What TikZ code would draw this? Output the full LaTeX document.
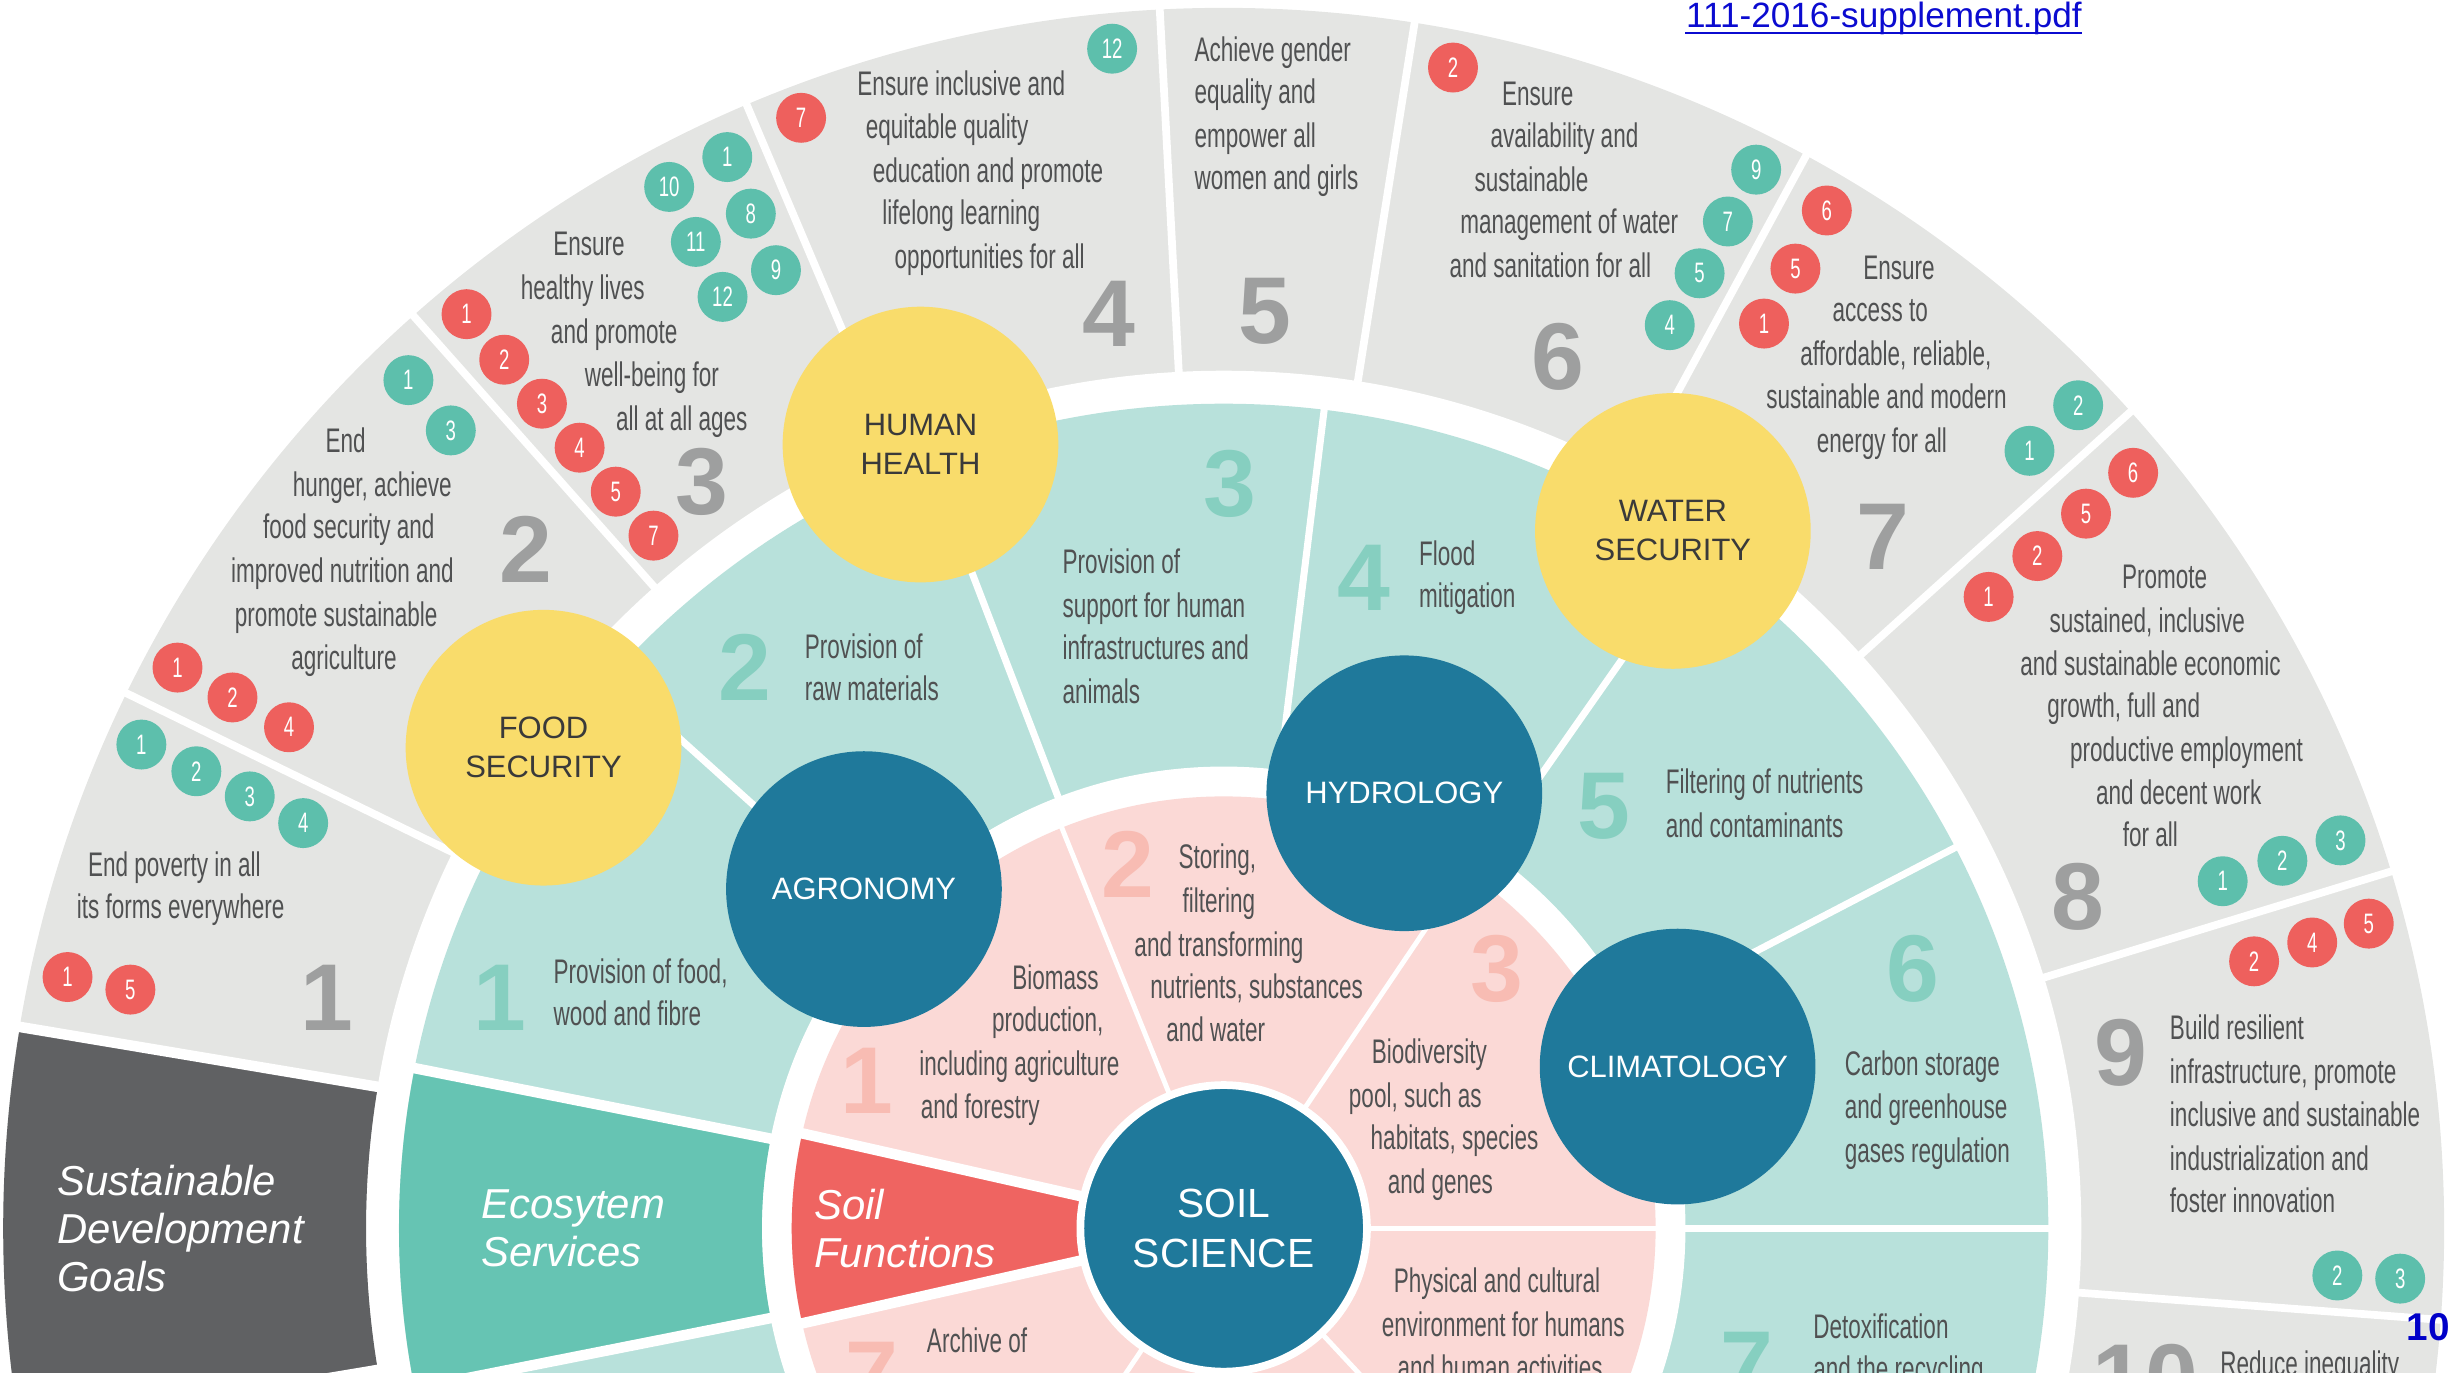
\documentclass[tikz,border=0pt]{standalone}
\usepackage{fontspec}
\setmainfont{Liberation Sans}
\newfontfamily\narrowfont[FakeStretch=0.66]{Liberation Sans}
\definecolor{sdggrey}{HTML}{E4E5E3}
\definecolor{sdgnum}{HTML}{9E9F9F}
\definecolor{sdgdark}{HTML}{606163}
\definecolor{esteal}{HTML}{B8E1DB}
\definecolor{esnum}{HTML}{86CFC0}
\definecolor{esbox}{HTML}{66C4B3}
\definecolor{sfpink}{HTML}{FBD9D6}
\definecolor{sfnum}{HTML}{F8BCB3}
\definecolor{sfred}{HTML}{EF6461}
\definecolor{dotred}{HTML}{EE605D}
\definecolor{dotteal}{HTML}{5DBFAC}
\definecolor{sunny}{HTML}{F9DC6B}
\definecolor{deepblue}{HTML}{1F799B}
\definecolor{txtgrey}{HTML}{505152}
\definecolor{themetxt}{HTML}{3A3A3A}
\definecolor{linkblue}{HTML}{0B0BD0}
\definecolor{pageblue}{HTML}{0000C8}
\tikzset{
  ringtext/.style={font=\narrowfont\fontsize{9.7}{12}\selectfont, text=txtgrey, inner sep=0pt, anchor=mid},
  ringtextl/.style={ringtext, anchor=mid west},
  bignum/.style={font=\bfseries\fontsize{27}{27}\selectfont, inner sep=0pt},
  reddot/.style={circle, fill=dotred, text=white, minimum size=14.2pt, inner sep=0pt, font=\narrowfont\fontsize{8}{8}\selectfont},
  tealdot/.style={reddot, fill=dotteal},
  theme/.style={circle, minimum size=78.4pt, inner sep=0pt, align=center, font=\fontsize{8.8}{11.1}\selectfont},
  yellowtheme/.style={theme, fill=sunny, text=themetxt},
  bluetheme/.style={theme, fill=deepblue, text=white},
  boxlabel/.style={font=\itshape\fontsize{11.9}{13.6}\selectfont, text=white, align=left, anchor=west, inner sep=0pt},
  sepline/.style={white, line width=#1},
}

\begin{document}
\begin{tikzpicture}[x=0.015708cm, y=-0.015708cm]
    \useasboundingbox (0,0) rectangle (1568,879);
    % rings, drawn round the centre of the soil science circle
    \begin{scope}[shift={(779,782)}, yscale=-1]
        \fill[sdggrey] (0,0) circle (777);
        \fill[white] (0,0) circle (546);
        \fill[esteal] (0,0) circle (525);
        \fill[white] (0,0) circle (294);
        \fill[sfpink] (0,0) circle (275);
        \foreach \a in {154,131.6,113,93,81,61.5,42,17,-4.3}
            \draw[sepline=2.2pt] (\a:544) -- (\a:780);
        \foreach \a in {138,111,83,55,27.5,0}
            \draw[sepline=2pt] (\a:292) -- (\a:527);
        \foreach \a in {112,56,0,236,313}
            \draw[sepline=1.4pt] (\a:80) -- (\a:277);
        % the three label wedges on the left
        \fill[sdgdark] (170.5:546) -- (170.5:777) arc[start angle=170.5, end angle=189.5, radius=777] -- (189.5:546) arc[start angle=189.5, end angle=170.5, radius=546] -- cycle;
        \fill[esbox] (168.8:294) -- (168.8:525) arc[start angle=168.8, end angle=191.2, radius=525] -- (191.2:294) arc[start angle=191.2, end angle=168.8, radius=294] -- cycle;
        \fill[sfred] (167.3:90) -- (167.3:275) arc[start angle=167.3, end angle=192.7, radius=275] -- (192.7:90) -- cycle;
        \foreach \a in {170.5,189.5}
            \draw[sepline=3pt] (\a:544) -- (\a:780);
        \foreach \a in {168.8,191.2}
            \draw[sepline=3pt] (\a:292) -- (\a:527);
        \foreach \a in {167.3,192.7}
            \draw[sepline=3pt] (\a:80) -- (\a:277);
    \end{scope}

    % big numbers
    \foreach \n/\x/\y [count=\i] in {1/208/635, 2/335/350, 3/447/307, 4/706/200, 5/805/198, 6/992/227, 7/1199/342, 8/1323/571, 9/1350/670, 10/1366/877}
        \node[bignum, text=sdgnum] (sdgnum\i) at (\x,\y) {\n};
    \foreach \n/\x/\y [count=\i] in {1/318/635, 2/474/425, 3/783/308, 4/868/368, 5/1021/513, 6/1218/617, 7/1112/869}
        \node[bignum, text=esnum] (esnum\i) at (\x,\y) {\n};
    \foreach \n/\x/\y [count=\i] in {1/552/688, 2/718/550, 3/953/617, 7/555/875}
        \node[bignum, text=sfnum] (sfnum\i) at (\x,\y) {\n};

    % goals
    \foreach \x/\y/\t [count=\i] in {111/552/End poverty in all, 115/579/its forms everywhere,
        220/282/End, 237/310/{hunger, achieve}, 222/337/food security and, 218/365/improved nutrition and, 214/393/promote sustainable, 219/420/agriculture,
        375/157/Ensure, 371/185/healthy lives, 391/213/and promote, 415/240/well-being for, 434/268/all at all ages,
        612/55/Ensure inclusive and, 603/82/equitable quality, 629/110/education and promote, 612/137/lifelong learning, 630/165/opportunities for all,
        979/61/Ensure, 996/88/availability and, 975/116/sustainable, 999/143/management of water, 987/171/and sanitation for all,
        1209/172/Ensure, 1197/199/access to, 1207/227/{affordable, reliable,}, 1201/254/sustainable and modern, 1198/282/energy for all,
        1378/369/Promote, 1367/397/{sustained, inclusive}, 1369/424/and sustainable economic, 1352/451/{growth, full and}, 1392/479/productive employment, 1387/506/and decent work, 1369/533/for all}
        \node[ringtext] (goal\i) at (\x,\y) {\t};
    \foreach \x/\y/\t [count=\i] in {760/33/Achieve gender, 760/60/equality and, 760/88/empower all, 760/115/women and girls,
        1381/656/Build resilient, 1381/684/{infrastructure, promote}, 1381/711/inclusive and sustainable, 1381/739/industrialization and, 1381/766/foster innovation,
        1413/870/Reduce inequality}
        \node[ringtextl] (goall\i) at (\x,\y) {\t};

    % ecosystem services
    \foreach \x/\y/\t [count=\i] in {352/620/{Provision of food,}, 352/647/wood and fibre,
        512/413/Provision of, 512/440/raw materials,
        676/359/Provision of, 676/387/support for human, 676/414/infrastructures and, 676/442/animals,
        903/354/Flood, 903/381/mitigation,
        1060/499/Filtering of nutrients, 1060/527/and contaminants,
        1174/679/Carbon storage, 1174/706/and greenhouse, 1174/734/gases regulation,
        1154/846/Detoxification, 1154/873/and the recycling}
        \node[ringtextl] (service\i) at (\x,\y) {\t};

    % soil functions
    \foreach \x/\y/\t [count=\i] in {672/624/Biomass, 667/651/{production,}, 649/679/including agriculture, 624/706/and forestry,
        775/547/{Storing,}, 776/575/filtering, 776/603/and transforming, 800/630/{nutrients, substances}, 774/657/and water,
        910/671/Biodiversity, 901/699/{pool, such as}, 926/726/{habitats, species}, 917/754/and genes,
        953/817/Physical and cultural, 957/845/environment for humans, 955/872/and human activities,
        622/855/Archive of}
        \node[ringtext] (function\i) at (\x,\y) {\t};

    % target dots
    \foreach \n/\x/\y [count=\i] in {1/43/622, 5/83/630, 1/113/425, 2/148/444, 4/184/463,
        1/297/200, 2/321/229, 3/345/257, 4/369/285, 5/392/313, 7/416/341, 7/510/75, 2/925/43,
        6/1163/134, 5/1143/171, 1/1123/206, 6/1358/301, 5/1328/327, 2/1297/354, 1/1266/380,
        2/1435/612, 4/1472/600, 5/1508/588}
        \node[reddot] (red\i) at (\x,\y) {\n};
    \foreach \n/\x/\y [count=\i] in {1/90/474, 2/125/491, 3/159/507, 4/193/524, 1/260/242, 3/287/274,
        1/463/100, 10/426/119, 8/478/136, 11/443/154, 9/494/172, 12/460/189, 12/708/31,
        9/1118/108, 7/1100/141, 5/1082/174, 4/1063/207, 2/1323/258, 1/1292/287,
        1/1415/561, 2/1453/548, 3/1490/535, 2/1488/812, 3/1528/814}
        \node[tealdot] (teal\i) at (\x,\y) {\n};

    % labels of the wedges
    \node[boxlabel] (sdglabel) at (36,782) {Sustainable\\Development\\Goals};
    \node[boxlabel] (eslabel) at (306,782) {Ecosytem\\Services};
    \node[boxlabel] (sflabel) at (518,782) {Soil\\Functions};

    % themes
    \node[yellowtheme] (food) at (346,476) {FOOD\\SECURITY};
    \node[yellowtheme] (health) at (586,283) {HUMAN\\HEALTH};
    \node[yellowtheme] (water) at (1065,338) {WATER\\SECURITY};
    \node[bluetheme] (agro) at (550,566) {AGRONOMY};
    \node[bluetheme] (hydro) at (894,505) {HYDROLOGY};
    \node[bluetheme] (clima) at (1068,679) {CLIMATOLOGY};
    \node[bluetheme, minimum size=81.5pt, draw=white, line width=2.2pt, font=\fontsize{11.6}{14.2}\selectfont] (soil) at (779,782) {SOIL\\SCIENCE};

    \fill[white] (0,874) rectangle (1568,880);
    \node[anchor=base west, inner sep=0pt, text=linkblue, font=\fontsize{10}{12}\selectfont] (link) at (1073,17.5) {111-2016-supplement.pdf};
    \draw[linkblue, line width=0.7pt] ([yshift=-1.6pt]link.base west) -- ([yshift=-1.6pt]link.base east);
    \node[inner sep=0pt, text=pageblue, font=\bfseries\fontsize{11}{11}\selectfont] (pageno) at (1546,845) {10};
\end{tikzpicture}
\end{document}
